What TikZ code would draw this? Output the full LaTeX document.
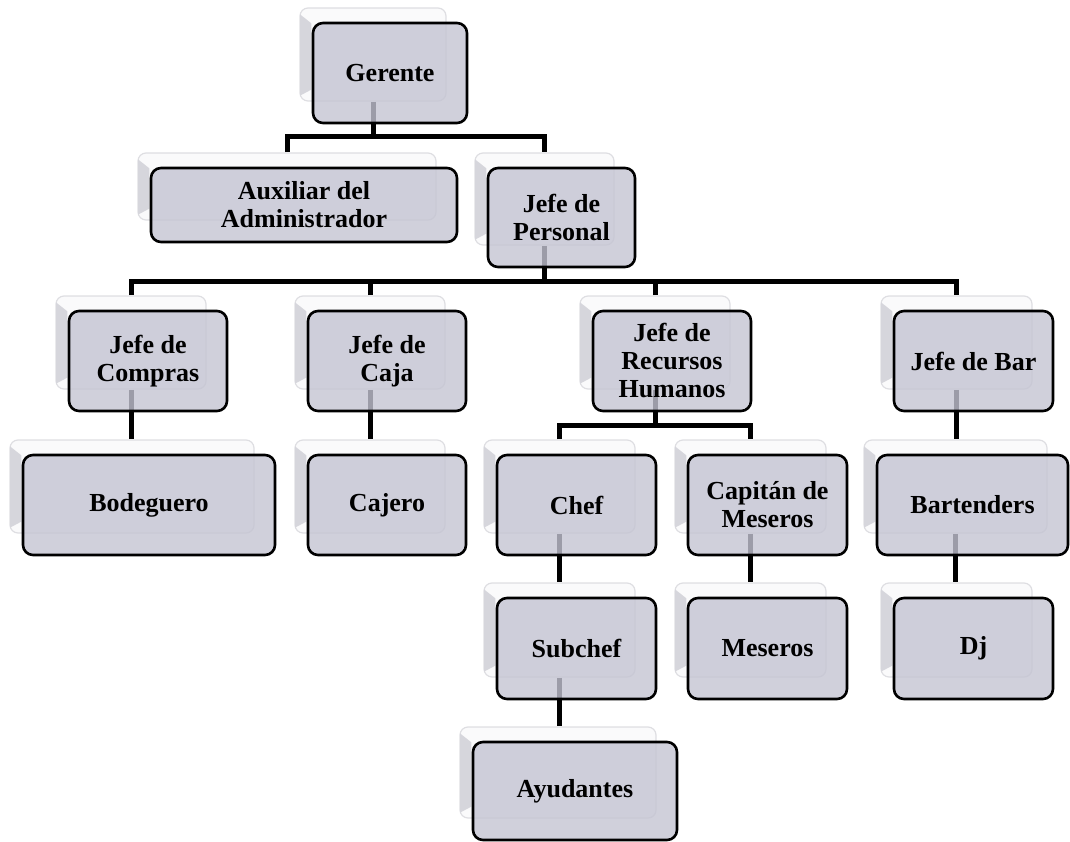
\documentclass[tikz,border=0pt]{standalone}
\usepackage{fontspec}
\setmainfont{Liberation Serif}
\usetikzlibrary{backgrounds}
\definecolor{boxfill}{RGB}{196,196,210}
\definecolor{shfill}{RGB}{250,250,251}
\definecolor{shedge}{RGB}{222,222,226}
\definecolor{bevelc}{RGB}{214,214,220}
\tikzset{
  mainbox/.style={draw=black, line width=2.6pt, rounded corners=10pt, fill=boxfill,
    fill opacity=0.8, text opacity=1, align=center,
    font=\fontsize{26}{28}\selectfont\bfseries, inner sep=2pt},
  shbox/.style={draw=shedge, line width=1.2pt, rounded corners=8pt, fill=shfill, inner sep=0pt},
  bevel/.style={fill=bevelc},
  conn/.style={draw=black, line width=5pt},
}
\newcommand\orgbox[6]{%
  \pgfmathsetmacro\obW{#4-#2}%
  \pgfmathsetmacro\obH{#5-#3}%
  \pgfmathsetmacro\obX{(#2+#4)/2}%
  \pgfmathsetmacro\obY{(#3+#5)/2}%
  \node[shbox, minimum width=\obW pt-8pt, minimum height=\obH pt-7pt] (#1S) at (\obX-17,\obY-18.5) {};
  \fill[bevel] ([shift={(0.7pt,-7pt)}]#1S.north west) -- ([shift={(12pt,-16pt)}]#1S.north west)
     -- ([shift={(12pt,12pt)}]#1S.south west) -- ([shift={(0.7pt,6pt)}]#1S.south west) -- cycle;
  \node[mainbox, minimum width=\obW pt, minimum height=\obH pt] (#1) at (\obX,\obY) {#6};
}
\begin{document}
\begin{tikzpicture}[x=1pt,y=-1pt]
\useasboundingbox (0,0) rectangle (1070,842);
\orgbox{ger}{313}{23}{467}{123}{Gerente}
\orgbox{aux}{151}{168}{457}{242}{Auxiliar del\\Administrador}
\orgbox{jp}{488}{168}{635}{267}{Jefe de\\Personal}
\orgbox{com}{69}{311}{227}{411}{Jefe de\\Compras}
\orgbox{caj}{308}{311}{466}{411}{Jefe de\\Caja}
\orgbox{jrh}{593}{311}{751}{411}{Jefe de\\Recursos\\Humanos}
\orgbox{bar}{894}{311}{1053}{411}{Jefe de Bar}
\orgbox{bod}{23}{455}{275}{555}{Bodeguero}
\orgbox{cjr}{308}{455}{466}{555}{Cajero}
\orgbox{chef}{497}{455}{656}{555}{Chef}
\orgbox{cap}{688}{455}{847}{555}{Capitán de\\Meseros}
\orgbox{btd}{877}{455}{1068}{555}{Bartenders}
\orgbox{sub}{497}{598}{656}{699}{Subchef}
\orgbox{mes}{688}{598}{847}{699}{Meseros}
\orgbox{dj}{894}{598}{1053}{699}{Dj}
\orgbox{ayu}{473}{742}{677}{840}{Ayudantes}
\begin{pgfonlayer}{background}
\coordinate (busA) at (0,137);
\coordinate (busB) at (0,281);
\coordinate (busC) at (0,425);
\draw[conn] (gerS.south) -- (gerS.south |- busA);
\draw[conn] (auxS.north) |- (jpS.north |- busA) -- (jpS.north);
\draw[conn] (jpS.south) -- (jpS.south |- busB);
\draw[conn] (comS.north) |- (barS.north |- busB) -- (barS.north);
\draw[conn] (cajS.north) -- (cajS.north |- busB);
\draw[conn] (jrhS.north) -- (jrhS.north |- busB);
\draw[conn] (comS.south) -- (comS.south |- bodS.north);
\draw[conn] (cajS.south) -- (cajS.south |- cjrS.north);
\draw[conn] (jrhS.south) -- (jrhS.south |- busC);
\draw[conn] (chefS.north) |- (capS.north |- busC) -- (capS.north);
\draw[conn] (barS.south) -- (barS.south |- btdS.north);
\draw[conn] (chefS.south) -- (chefS.south |- subS.north);
\draw[conn] (capS.south) -- (capS.south |- mesS.north);
\draw[conn] (btdS.south) -- (btdS.south |- djS.north);
\draw[conn] (subS.south) -- (subS.south |- ayuS.north);
\end{pgfonlayer}
\end{tikzpicture}
\end{document}
